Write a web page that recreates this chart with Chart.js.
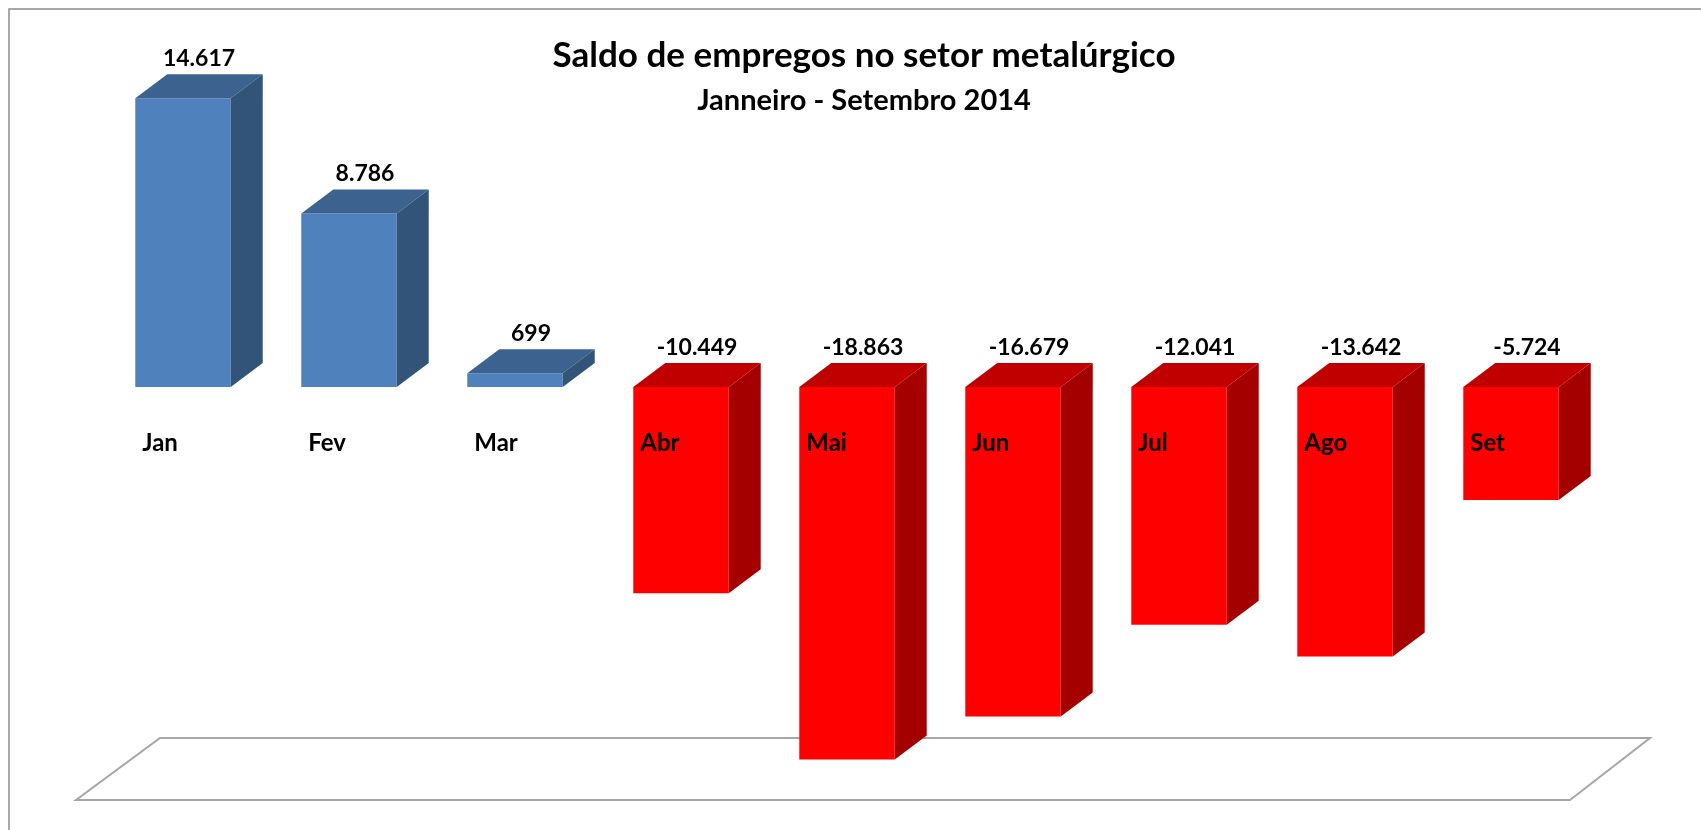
<!DOCTYPE html>
<html>
<head>
<meta charset="utf-8">
<script src="https://cdn.jsdelivr.net/npm/chart.js@4.4.1/dist/chart.umd.min.js"></script>
<style>
  html, body { margin: 0; padding: 0; background: #fff; }
  #wrap { width: 1701px; height: 830px; }
</style>
</head>
<body>
<div id="wrap"><canvas id="saldoChart" width="1701" height="830"></canvas></div>
<script>
const months = ['Jan', 'Fev', 'Mar', 'Abr', 'Mai', 'Jun', 'Jul', 'Ago', 'Set'];
const saldo = [14617, 8786, 699, -10449, -18863, -16679, -12041, -13642, -5724];
const yRange = [-20000, 16000];
const titleText = 'Saldo de empregos no setor metalúrgico';
const subtitleText = 'Janneiro - Setembro 2014';

const blue = { front: '#4f81bd', top: '#3c6290', side: '#335479' };
const red = { front: '#ff0000', top: '#c00000', side: '#a50000' };
const depth = { dx: 32, dy: 24 };
const fontName = 'Lato';

// numbers like 14.617 (pt-BR thousands)
function fmt(v) {
    const s = String(Math.abs(v)).replace(/\B(?=(\d{3})+(?!\d))/g, '.');
    return (v < 0 ? '-' : '') + s;
}

function poly(ctx, pts, color) {
    ctx.beginPath();
    ctx.moveTo(pts[0][0], pts[0][1]);
    for (let i = 1; i < pts.length; i++) ctx.lineTo(pts[i][0], pts[i][1]);
    ctx.closePath();
    ctx.fillStyle = color;
    ctx.fill();
}

const fake3d = {
    id: 'fake3d',
    beforeDatasetsDraw(chart) {
        // floor of the 3d box
        const ctx = chart.ctx;
        const a = chart.chartArea;
        ctx.save();
        ctx.beginPath();
        ctx.moveTo(a.left - 24, a.bottom + 18);
        ctx.lineTo(a.right - 24, a.bottom + 18);
        ctx.lineTo(a.right + 56, a.bottom - 44);
        ctx.lineTo(a.left + 60, a.bottom - 44);
        ctx.closePath();
        ctx.fillStyle = '#ffffff';
        ctx.fill();
        ctx.lineWidth = 2;
        ctx.strokeStyle = '#a6a6a6';
        ctx.stroke();
        ctx.restore();
    },
    afterDatasetsDraw(chart) {
        const ctx = chart.ctx;
        const meta = chart.getDatasetMeta(0);
        const zeroY = chart.scales.y.getPixelForValue(0);
        ctx.save();
        meta.data.forEach((bar, i) => {
            const p = bar.getProps(['x', 'y', 'base', 'width'], true);
            const pal = saldo[i] >= 0 ? blue : red;
            const l = p.x - p.width / 2, r = p.x + p.width / 2;
            const t = Math.min(p.y, p.base), b = Math.max(p.y, p.base);
            const dx = depth.dx, dy = depth.dy;
            poly(ctx, [[l, t], [l + dx, t - dy], [r + dx, t - dy], [r, t]], pal.top);
            poly(ctx, [[r, t], [r + dx, t - dy], [r + dx, b - dy], [r, b]], pal.side);

            ctx.fillStyle = '#000';
            ctx.font = 'bold 23px ' + fontName;
            ctx.textAlign = 'center';
            ctx.textBaseline = 'alphabetic';
            ctx.fillText(fmt(saldo[i]), p.x + dx / 2, t - dy - 8);

            ctx.font = 'bold 24px ' + fontName;
            ctx.textAlign = 'left';
            ctx.fillText(months[i], l + 7, zeroY + 64);
        });
        ctx.restore();
    },
    afterDraw(chart) {
        const ctx = chart.ctx;
        ctx.save();
        // outer border (only left/top visible in the picture)
        ctx.strokeStyle = '#8c8c8c';
        ctx.lineWidth = 1.5;
        ctx.beginPath();
        ctx.moveTo(9, 830);
        ctx.lineTo(9, 9);
        ctx.lineTo(1701, 9);
        ctx.stroke();

        ctx.fillStyle = '#000';
        ctx.textAlign = 'center';
        ctx.textBaseline = 'alphabetic';
        ctx.font = 'bold 35px ' + fontName;
        ctx.fillText(titleText, 864, 67);
        ctx.font = 'bold 29px ' + fontName;
        ctx.fillText(subtitleText, 864, 110);
        ctx.restore();
    }
};

const ctx = document.getElementById('saldoChart').getContext('2d');
new Chart(ctx, {
    type: 'bar',
    data: {
        labels: months,
        datasets: [{
            label: 'Saldo',
            data: saldo,
            backgroundColor: saldo.map(v => v >= 0 ? blue.front : red.front),
            borderWidth: 0,
            categoryPercentage: 1,
            barPercentage: 0.575
        }]
    },
    options: {
        responsive: false,
        animation: false,
        layout: { padding: { left: 100, right: 107, top: 71, bottom: 48 } },
        plugins: { legend: { display: false }, tooltip: { enabled: false } },
        scales: {
            x: { display: false },
            y: { display: false, min: yRange[0], max: yRange[1] }
        }
    },
    plugins: [fake3d]
});
</script>
</body>
</html>
